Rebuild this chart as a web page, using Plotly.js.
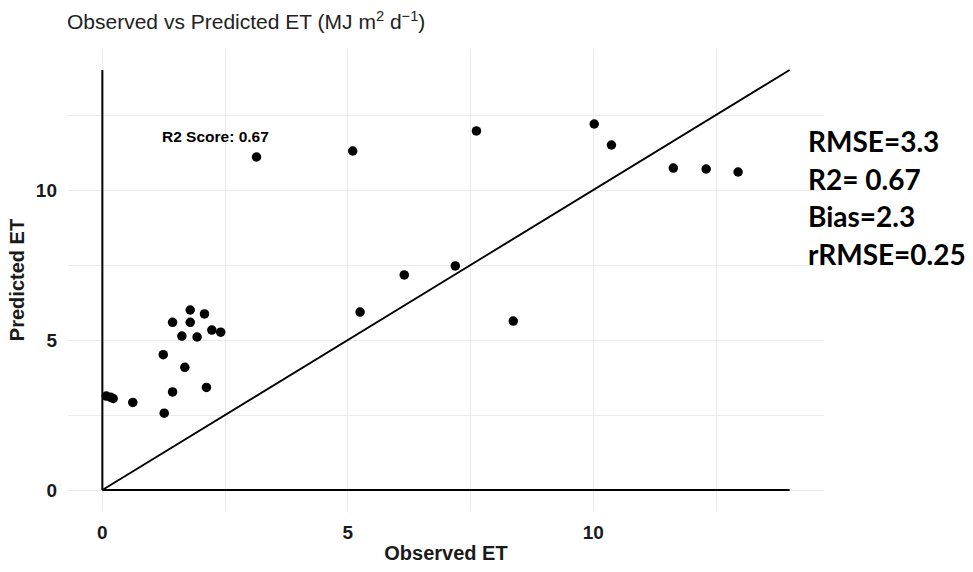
<!DOCTYPE html>
<html>
<head>
<meta charset="utf-8">
<script src="https://cdn.plot.ly/plotly-3.0.1.min.js"></script>
<style>html,body{margin:0;padding:0;background:#fff;}#chart{width:973px;height:572px;}</style>
</head>
<body>
<div id="chart"></div>
<script>
// Data
const observed  = [0.08, 0.17, 0.22, 0.62, 1.26, 1.43, 1.24, 1.68, 2.12, 1.43, 1.79, 1.79, 2.08, 1.62, 1.93, 2.23, 2.41, 3.14, 5.10, 7.62, 10.02, 10.37, 11.63, 12.30, 12.95, 5.25, 6.15, 7.19, 8.37];
const predicted = [3.13, 3.09, 3.05, 2.92, 2.56, 3.27, 4.51, 4.09, 3.42, 5.59, 6.00, 5.59, 5.87, 5.13, 5.10, 5.33, 5.26, 11.10, 11.30, 11.97, 12.20, 11.50, 10.73, 10.70, 10.60, 5.93, 7.17, 7.47, 5.63];
const identityLine = [0, 14];          // 1:1 reference line
const axisSpan = [0, 14];              // drawn axis lines
const tickValues = [0, 5, 10];
const tickLabels = ['0', '5', '10'];
const minorTickValues = [2.5, 7.5, 12.5];
const r2Label = 'R2 Score: 0.67';
const r2Pos = [2.3, 11.8];
const statsLines = ['RMSE=3.3', 'R2= 0.67', 'Bias=2.3', 'rRMSE=0.25'];
const titleText = 'Observed vs Predicted ET (MJ m<sup>2</sup> d<sup>\u22121</sup>)';

const W = 973, H = 572;
const mL = 68, mR = 149, mT = 49, mB = 61;
const pw = W - mL - mR, ph = H - mT - mB;

const traces = [
  {x: axisSpan, y: [0, 0], mode: 'lines', line: {color: '#000', width: 2}, hoverinfo: 'skip', showlegend: false},
  {x: [0, 0], y: axisSpan, mode: 'lines', line: {color: '#000', width: 2}, hoverinfo: 'skip', showlegend: false},
  {x: identityLine, y: identityLine, mode: 'lines', line: {color: '#000', width: 1.8}, hoverinfo: 'skip', showlegend: false},
  {x: observed, y: predicted, mode: 'markers', marker: {color: '#000', size: 9.5}, showlegend: false}
];

const FAM = 'Liberation Sans, Arial, sans-serif';
const tickFont = {family: FAM, size: 19, color: '#1a1a1a', weight: 'bold'};
const axTitleFont = {family: FAM, size: 20, color: '#1a1a1a', weight: 'bold'};
const minorGrid = {tickmode: 'array', tickvals: minorTickValues, showgrid: true, gridcolor: '#EBEBEB', gridwidth: 1, ticks: ''};

const annotations = [
  {x: r2Pos[0], y: r2Pos[1], xref: 'x', yref: 'y', text: r2Label, showarrow: false,
   font: {family: FAM, size: 15.5, color: '#000', weight: 'bold'}}
];
const statsTop = 141, statsStep = 37.7, statsX = 806;
statsLines.forEach((t, i) => {
  annotations.push({
    xref: 'paper', yref: 'paper',
    x: (statsX - mL) / pw, y: 1 - (statsTop + i * statsStep - mT) / ph,
    xanchor: 'left', yanchor: 'middle', text: t, showarrow: false,
    font: {family: 'Lato, sans-serif', size: 28, color: '#000', weight: 'bold'}
  });
});

const layout = {
  width: W, height: H,
  margin: {l: mL, r: mR, t: mT, b: mB},
  paper_bgcolor: '#fff', plot_bgcolor: '#fff',
  title: {text: titleText, xref: 'container', yref: 'container', x: 67 / W, xanchor: 'left',
          y: 1 - 22 / H, yanchor: 'middle',
          font: {family: FAM, size: 21, color: '#222'}},
  xaxis: {range: [-0.7, 14.7], tickmode: 'array', tickvals: tickValues, ticktext: tickLabels,
          showgrid: true, gridcolor: '#EBEBEB', gridwidth: 1, zeroline: false, showline: false,
          minor: minorGrid,
          ticks: '', ticklabelstandoff: 8, tickfont: tickFont,
          title: {text: 'Observed ET', standoff: 3, font: axTitleFont}},
  yaxis: {range: [-0.7, 14.7], tickmode: 'array', tickvals: tickValues, ticktext: tickLabels,
          showgrid: true, gridcolor: '#EBEBEB', gridwidth: 1, zeroline: false, showline: false,
          minor: minorGrid,
          ticks: '', ticklabelstandoff: 10, tickfont: tickFont,
          title: {text: 'Predicted ET', standoff: 5, font: axTitleFont}},
  annotations: annotations,
  showlegend: false
};

Plotly.newPlot('chart', traces, layout, {displayModeBar: false, staticPlot: true});
</script>
</body>
</html>
